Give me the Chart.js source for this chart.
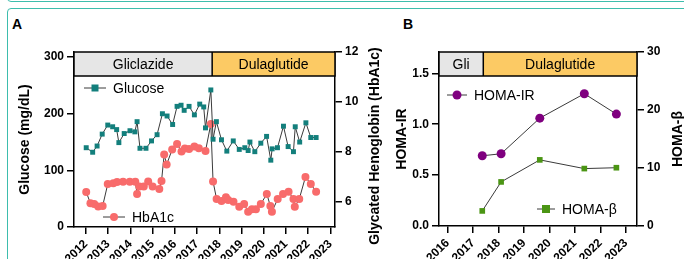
<!DOCTYPE html>
<html>
<head>
<meta charset="utf-8">
<script src="https://cdn.jsdelivr.net/npm/chart.js@4"></script>
<style>
  body { margin: 0; width: 684px; height: 259px; overflow: hidden; background: #fff; position: relative; font-family: "Liberation Sans", Arial, sans-serif; }
  .frame { position: absolute; border: 1.5px solid #3dbdad; border-radius: 4px; }
  .letter { position: absolute; font-weight: bold; font-size: 14px; }
  .panel { position: absolute; top: 0; height: 259px; }
</style>
</head>
<body>
<div class="frame" style="left:7px; top:-30px; width:700px; height:30px;"></div>
<div class="frame" style="left:7px; top:8px; width:700px; height:300px;"></div>
<div class="letter" style="left:12px; top:16px;">A</div>
<div class="letter" style="left:403px; top:16px;">B</div>
<div class="panel" style="left:0; width:390px;"><canvas id="chartA" width="390" height="259"></canvas></div>
<div class="panel" style="left:390px; width:294px;"><canvas id="chartB" width="294" height="259"></canvas></div>
<script>
// panel A - glucose and HbA1c over time
const glucoseYears = [2012.01, 2012.3, 2012.5, 2012.73, 2012.98, 2013.2, 2013.38, 2013.48, 2013.72, 2013.98,
  2014.2, 2014.3, 2014.43, 2014.7, 2014.95, 2015.2, 2015.44, 2015.65, 2015.9, 2016.1,
  2016.28, 2016.42, 2016.64, 2016.88, 2017.12, 2017.3, 2017.38, 2017.62, 2017.72, 2017.87,
  2018.1, 2018.34, 2018.63, 2018.9, 2019.15, 2019.3, 2019.38, 2019.6, 2019.87, 2020.13,
  2020.32, 2020.38, 2020.62, 2020.89, 2021.1, 2021.34, 2021.42, 2021.62, 2021.9, 2022.12, 2022.36];
const glucoseValues = [140, 132, 143, 164, 180, 177, 172, 149, 165, 170,
  168, 186, 139, 139, 152, 163, 200, 196, 181, 213,
  215, 206, 213, 198, 217, 212, 175, 242, 155, 186,
  154, 134, 152, 137, 140, 135, 150, 133, 148, 160,
  118, 138, 140, 178, 142, 133, 177, 150, 184, 158, 158];
const hba1cYears = [2012.01, 2012.2, 2012.37, 2012.55, 2012.75, 2012.98, 2013.23, 2013.4, 2013.67, 2013.97,
  2014.22, 2014.3, 2014.4, 2014.6, 2014.8, 2015.0, 2015.3, 2015.4, 2015.52, 2015.63,
  2015.88, 2016.1, 2016.3, 2016.45, 2016.64, 2016.88, 2017.08, 2017.38, 2017.62, 2017.72,
  2017.88, 2018.1, 2018.3, 2018.4, 2018.64, 2018.9, 2019.12, 2019.3, 2019.47, 2019.65,
  2019.87, 2020.14, 2020.3, 2020.37, 2020.63, 2020.87, 2021.12, 2021.34, 2021.4, 2021.6,
  2021.88, 2022.12, 2022.36];
const hba1cValues = [6.4, 5.95, 5.92, 5.82, 5.84, 6.72, 6.75, 6.8, 6.81, 6.81,
  6.81, 6.32, 6.62, 6.62, 6.82, 6.62, 6.52, 6.84, 7.9, 7.5,
  8.1, 8.32, 8.02, 8.14, 8.12, 8.22, 8.15, 8.04, 9.12, 6.82,
  6.12, 6.04, 6.19, 6.08, 6.01, 5.81, 5.92, 5.61, 5.71, 5.71,
  5.92, 6.32, 5.84, 5.61, 6.12, 6.32, 6.41, 6.12, 5.81, 6.12,
  7.0, 6.72, 6.41];
const yearTicksA = [2012, 2013, 2014, 2015, 2016, 2017, 2018, 2019, 2020, 2021, 2022, 2023];
const glucoseTicks = [0, 100, 200, 300];
const hba1cTicks = [6, 8, 10, 12];
const phasesA = ['Gliclazide', 'Dulaglutide'];
const switchA = 2017.68;

// panel B - HOMA indices
const homaYears = [2017.36, 2018.1, 2019.62, 2021.37, 2022.63];
const homaIR = [0.69, 0.71, 1.06, 1.30, 1.10];
const homaBeta = [2.6, 7.6, 11.4, 9.9, 10.05];
const yearTicksB = [2016, 2017, 2018, 2019, 2020, 2021, 2022, 2023];
const homaIRTicks = [0, 0.5, 1.0, 1.5];
const homaBetaTicks = [0, 10, 20, 30];
const phasesB = ['Gli', 'Dulaglutide'];
const switchB = 2017.40;

const FONT = '"Liberation Sans", Arial, sans-serif';
const TEAL = '#137f7c', SALMON = '#f86b6b', PURPLE = '#7f007f', GREEN = '#4b9514';
const LINE = '#3a3a3a';

const pts = (xs, ys) => xs.map((x, i) => ({ x: x, y: ys[i] }));

function axis(pos, min, max, ticks, width, fmt, extra) {
  const cfg = {
    type: 'linear', position: pos, min: min, max: max,
    afterBuildTicks: s => { s.ticks = ticks.map(v => ({ value: v })); },
    afterFit: s => { if (s.isHorizontal()) s.height = width; else s.width = width; },
    border: { color: '#000', width: 1.5 },
    grid: { drawOnChartArea: false, color: '#000', lineWidth: 1.5, tickLength: 7 },
    ticks: { color: '#000', padding: 3, autoSkip: false, font: { family: FONT, size: 12, weight: 'bold' }, callback: fmt }
  };
  if (pos === 'bottom') {
    cfg.ticks.minRotation = 45;  // diagonal year labels
    cfg.ticks.maxRotation = 45;
  }
  return Object.assign(cfg, extra || {});
}

function drawMarker(ctx, style, x, y, r, color) {
  ctx.fillStyle = color;
  ctx.beginPath();
  if (style === 'rect') ctx.rect(x - r, y - r, 2 * r, 2 * r);
  else ctx.arc(x, y, r, 0, Math.PI * 2);
  ctx.fill();
}

function overlay(o) {
  return {
    id: 'overlay',
    afterDraw(chart) {
      const { ctx, chartArea: ca } = chart;
      const sx = chart.scales.x.getPixelForValue(o.switchAt);
      const bandH = 24;
      ctx.save();
      ctx.fillStyle = '#e6e6e6';
      ctx.fillRect(ca.left, ca.top, sx - ca.left, bandH);
      ctx.fillStyle = '#fcca64';
      ctx.fillRect(sx, ca.top, ca.right - sx, bandH);
      ctx.strokeStyle = '#000';
      ctx.lineWidth = 1.5;
      ctx.strokeRect(ca.left, ca.top, ca.right - ca.left, bandH);
      ctx.beginPath();
      ctx.moveTo(sx, ca.top);
      ctx.lineTo(sx, ca.top + bandH);
      ctx.stroke();
      ctx.fillStyle = '#000';
      ctx.font = '14px ' + FONT;
      ctx.textAlign = 'center';
      ctx.textBaseline = 'middle';
      ctx.fillText(o.phases[0], (ca.left + sx) / 2, ca.top + bandH / 2 + 1);
      ctx.fillText(o.phases[1], (sx + ca.right) / 2, ca.top + bandH / 2 + 1);

      // legend entries placed inside the plot
      ctx.textAlign = 'left';
      o.legend.forEach(l => {
        ctx.strokeStyle = LINE;
        ctx.lineWidth = 1;
        ctx.beginPath();
        ctx.moveTo(l.x, l.y);
        ctx.lineTo(l.x + l.w, l.y);
        ctx.stroke();
        drawMarker(ctx, l.style, l.x + l.w / 2, l.y, l.r, l.color);
        ctx.fillStyle = '#000';
        ctx.fillText(l.text, l.x + l.w + 7, l.y + 1);
      });

      // right axis title, reading bottom to top
      ctx.translate(o.rightTitleX, o.rightTitleY);
      ctx.rotate(-Math.PI / 2);
      ctx.textAlign = 'center';
      ctx.font = 'bold 14px ' + FONT;
      ctx.fillText(o.rightTitle, 0, 0);
      ctx.restore();
    }
  };
}

const yearFmt = v => String(v);

new Chart(document.getElementById('chartA'), {
  type: 'line',
  data: {
    datasets: [
      { label: 'Glucose', data: pts(glucoseYears, glucoseValues), yAxisID: 'y',
        borderColor: LINE, borderWidth: 1, pointStyle: 'rect', pointRadius: 3.5,
        pointBackgroundColor: TEAL, pointBorderColor: TEAL, pointBorderWidth: 0 },
      { label: 'HbA1c', data: pts(hba1cYears, hba1cValues), yAxisID: 'y1',
        borderColor: LINE, borderWidth: 1, pointStyle: 'circle', pointRadius: 4,
        pointBackgroundColor: SALMON, pointBorderColor: SALMON, pointBorderWidth: 0 }
    ]
  },
  options: {
    responsive: false,
    animation: false,
    devicePixelRatio: 1,
    layout: { padding: { top: 52, left: 0, right: 0, bottom: 0 } },
    plugins: { legend: { display: false }, tooltip: { enabled: false } },
    scales: {
      x: axis('bottom', 2011.46, 2023.21, yearTicksA, 32, yearFmt),
      y: axis('left', 0, 309, glucoseTicks, 74, v => String(v),
        { title: { display: true, text: 'Glucose (mg/dL)', color: '#000', padding: { top: 17, bottom: 0 },
          font: { family: FONT, size: 14, weight: 'bold' } } }),
      y1: axis('right', 5, 12, hba1cTicks, 55, v => String(v))
    }
  },
  plugins: [overlay({
    switchAt: switchA, phases: phasesA,
    rightTitle: 'Glycated Henoglobin (HbA1c)', rightTitleX: 375, rightTitleY: 146,
    legend: [
      { text: 'Glucose', x: 84, y: 88, w: 22, style: 'rect', r: 3.5, color: TEAL },
      { text: 'HbA1c', x: 103, y: 217, w: 22, style: 'circle', r: 4, color: SALMON }
    ]
  })]
});

new Chart(document.getElementById('chartB'), {
  type: 'line',
  data: {
    datasets: [
      { label: 'HOMA-IR', data: pts(homaYears, homaIR), yAxisID: 'y',
        borderColor: LINE, borderWidth: 1, pointStyle: 'circle', pointRadius: 4.5,
        pointBackgroundColor: PURPLE, pointBorderColor: PURPLE, pointBorderWidth: 0 },
      { label: 'HOMA-β', data: pts(homaYears, homaBeta), yAxisID: 'y1',
        borderColor: LINE, borderWidth: 1, pointStyle: 'rect', pointRadius: 4,
        pointBackgroundColor: GREEN, pointBorderColor: GREEN, pointBorderWidth: 0 }
    ]
  },
  options: {
    responsive: false,
    animation: false,
    devicePixelRatio: 1,
    layout: { padding: { top: 52, left: 0, right: 0, bottom: 0 } },
    plugins: { legend: { display: false }, tooltip: { enabled: false } },
    scales: {
      x: axis('bottom', 2015.66, 2023.44, yearTicksB, 33, yearFmt),
      y: axis('left', 0, 1.71, homaIRTicks, 49, v => v.toFixed(1),
        { title: { display: true, text: 'HOMA-IR', color: '#000', padding: { top: 4, bottom: 0 },
          font: { family: FONT, size: 14, weight: 'bold' } } }),
      y1: axis('right', 0, 30, homaBetaTicks, 47, v => String(v))
    }
  },
  plugins: [overlay({
    switchAt: switchB, phases: phasesB,
    rightTitle: 'HOMA-β', rightTitleX: 288, rightTitleY: 139,
    legend: [
      { text: 'HOMA-IR', x: 57, y: 95, w: 20, style: 'circle', r: 4.5, color: PURPLE },
      { text: 'HOMA-β', x: 147, y: 209, w: 18, style: 'rect', r: 4, color: GREEN }
    ]
  })]
});
</script>
</body>
</html>
